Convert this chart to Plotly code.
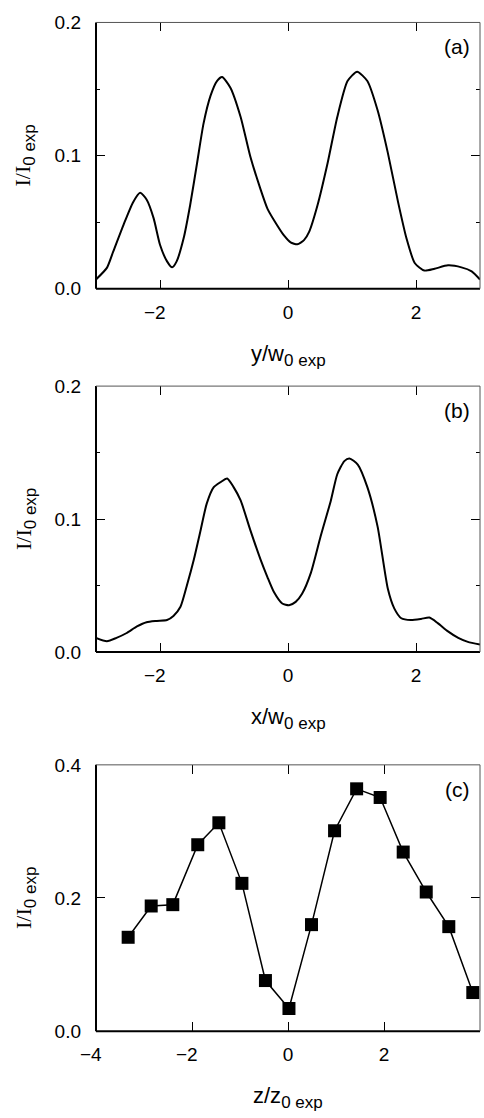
import plotly.graph_objects as go

# Panel (a): transverse profile along y
ya_x = [-3.0, -2.83, -2.73, -2.57, -2.42, -2.31, -2.21, -2.10, -2.0, -1.89, -1.81, -1.74, -1.63, -1.53,
        -1.42, -1.32, -1.21, -1.11, -1.03, -0.90, -0.74, -0.59, -0.43, -0.32, -0.17, -0.063, 0.04, 0.146,
        0.25, 0.33, 0.46, 0.62, 0.77, 0.93, 1.08, 1.24, 1.40, 1.56, 1.72, 1.85, 1.98, 2.13, 2.29, 2.50,
        2.71, 2.87, 3.0]
ya_y = [0.0069, 0.0156, 0.028, 0.048, 0.065, 0.072, 0.067, 0.053, 0.033, 0.0205, 0.016, 0.0205, 0.038, 0.0625,
        0.0946, 0.124, 0.145, 0.156, 0.159, 0.151, 0.129, 0.0995, 0.0748, 0.060, 0.0477, 0.040, 0.0348, 0.0333,
        0.0365, 0.0427, 0.0625, 0.0946, 0.129, 0.156, 0.163, 0.156, 0.134, 0.102, 0.065, 0.038, 0.0193, 0.0136,
        0.015, 0.0175, 0.016, 0.013, 0.0069]

# Panel (b): transverse profile along x
xb_x = [-3.0, -2.83, -2.68, -2.52, -2.36, -2.21, -2.05, -1.89, -1.79, -1.68, -1.58, -1.47, -1.37, -1.27,
        -1.16, -1.06, -0.95, -0.85, -0.74, -0.59, -0.43, -0.32, -0.22, -0.09, 0.016, 0.12, 0.22, 0.36, 0.51,
        0.67, 0.77, 0.88, 0.96, 1.09, 1.24, 1.40, 1.56, 1.66, 1.77, 1.92, 2.08, 2.21, 2.34, 2.50, 2.66,
        2.81, 3.0]
xb_y = [0.0106, 0.0081, 0.0106, 0.0143, 0.0192, 0.0224, 0.0234, 0.0241, 0.0271, 0.034, 0.050, 0.0697, 0.0906,
        0.1116, 0.124, 0.1276, 0.1305, 0.124, 0.114, 0.0919, 0.0697, 0.0562, 0.0451, 0.0365, 0.0352, 0.0377,
        0.0438, 0.0599, 0.087, 0.114, 0.1337, 0.1436, 0.1456, 0.141, 0.124, 0.0943, 0.0475, 0.0328, 0.0254,
        0.0241, 0.0249, 0.0259, 0.0217, 0.0155, 0.0106, 0.0076, 0.0057]

# Panel (c): on-axis intensity vs z
zc_x = [-3.33, -2.85, -2.40, -1.88, -1.44, -0.96, -0.47, 0.02, 0.49, 0.97, 1.43, 1.92, 2.40, 2.88, 3.35, 3.85]
zc_y = [0.141, 0.188, 0.190, 0.280, 0.313, 0.222, 0.076, 0.034, 0.160, 0.301, 0.364, 0.351, 0.269, 0.209,
        0.157, 0.058]

# tick labels
xt_ab_vals = [-2, 0, 2]
xt_ab_text = ["\u22122\u2007", "0", "2"]
xt_c_vals = [-4, -2, 0, 2, 4]
xt_c_text = ["\u22124\u2007", "\u22122\u2007", "0", "2", "4"]
yt_ab_vals = [0.0, 0.1, 0.2]
yt_ab_text = ["0.0", "0.1", "0.2"]
yt_c_vals = [0.0, 0.2, 0.4]
yt_c_text = ["0.0", "0.2", "0.4"]

SUB = "<sub><span style=\"font-size:17px\">0 exp</span></sub>"
x_titles = ["y/w" + SUB, "x/w" + SUB, "z/z" + SUB]
y_title = "<span style=\"font-family:'Liberation Serif'\">I/I</span>" + SUB
panel_labels = ["(a)", "(b)", "(c)"]

H = 1118.0
domains = [(12.7, 284.0), (383.3, 654.3), (769.3, 1040.7)]
xranges = [[-3, 3], [-3, 3], [-4, 4]]
yranges = [[0, 0.2], [0, 0.2], [0, 0.4]]
xticks = [(xt_ab_vals, xt_ab_text), (xt_ab_vals, xt_ab_text), (xt_c_vals, xt_c_text)]
yticks = [(yt_ab_vals, yt_ab_text), (yt_ab_vals, yt_ab_text), (yt_c_vals, yt_c_text)]
yminor = [0.05, 0.05, None]

FAM = "Liberation Sans, Arial, sans-serif"
tickfont = dict(family=FAM, size=19, color="black")
titlefont = dict(family=FAM, size=22, color="black")
labelfont = dict(family=FAM, size=21, color="black")

fig = go.Figure()
fig.add_trace(go.Scatter(x=ya_x, y=ya_y, mode="lines", line=dict(color="black", width=2, shape="spline", smoothing=0.6),
                         xaxis="x", yaxis="y", showlegend=False))
fig.add_trace(go.Scatter(x=xb_x, y=xb_y, mode="lines", line=dict(color="black", width=2, shape="spline", smoothing=0.6),
                         xaxis="x2", yaxis="y2", showlegend=False))
fig.add_trace(go.Scatter(x=zc_x, y=zc_y, mode="lines+markers", line=dict(color="black", width=1.5),
                         marker=dict(symbol="square", size=13, color="black"),
                         xaxis="x3", yaxis="y3", showlegend=False, cliponaxis=False))

layout = dict(width=484, height=1118, margin=dict(l=96, r=4, t=0, b=0),
              plot_bgcolor="white", paper_bgcolor="white", font=tickfont)
shapes = []
annotations = []
for i in range(3):
    sfx = "" if i == 0 else str(i + 1)
    top, bot = domains[i]
    ax_x = dict(domain=[0, 1], range=xranges[i], anchor="y" + sfx, ticks="inside", ticklen=9, tickwidth=1.3,
                tickcolor="black", tickmode="array", tickvals=xticks[i][0], ticktext=xticks[i][1],
                showgrid=False, zeroline=False, showline=False, mirror="ticks", tickfont=tickfont,
                ticklabelstandoff=10)
    ax_y = dict(domain=[1 - bot / H, 1 - top / H], range=yranges[i], anchor="x" + sfx, ticks="inside",
                ticklen=9, tickwidth=1.3, tickcolor="black", tickmode="array", tickvals=yticks[i][0],
                ticktext=yticks[i][1], showgrid=False, zeroline=False, showline=False, mirror="ticks",
                tickfont=tickfont, ticklabelstandoff=14)
    if yminor[i]:
        ax_y["minor"] = dict(ticks="inside", ticklen=4, tickcolor="black", dtick=yminor[i], tickwidth=1,
                             tickmode="linear", tick0=0)
    layout["xaxis" + sfx] = ax_x
    layout["yaxis" + sfx] = ax_y
    xr = "x" + sfx + " domain"
    yr = "y" + sfx + " domain"
    shapes += [
        dict(type="line", xref=xr, yref=yr, x0=0, x1=1, y0=0, y1=0, line=dict(color="black", width=2)),
        dict(type="line", xref=xr, yref=yr, x0=0, x1=0, y0=0, y1=1, line=dict(color="black", width=2)),
        dict(type="line", xref=xr, yref=yr, x0=0, x1=1, y0=1, y1=1, line=dict(color="#555", width=1)),
        dict(type="line", xref=xr, yref=yr, x0=1, x1=1, y0=0, y1=1, line=dict(color="#555", width=1)),
    ]
    annotations.append(dict(text=panel_labels[i], xref=xr, yref=yr, x=1, y=1, xanchor="right", yanchor="top",
                            xshift=-8, yshift=-11, showarrow=False, font=labelfont))
    annotations.append(dict(text=x_titles[i], xref=xr, yref=yr, x=0.5, y=0, xanchor="center", yanchor="top",
                            yshift=-50, showarrow=False, font=titlefont))
    annotations.append(dict(text=y_title, xref=xr, yref=yr, x=0, y=0.5, xanchor="center", yanchor="middle",
                            xshift=-71, textangle=-90, showarrow=False, font=titlefont))
layout["shapes"] = shapes
layout["annotations"] = annotations
fig.update_layout(**layout)
fig.write_html("out.html", config={"displayModeBar": False},
               post_script="document.body.style.margin='0';document.body.style.overflow='hidden';")
